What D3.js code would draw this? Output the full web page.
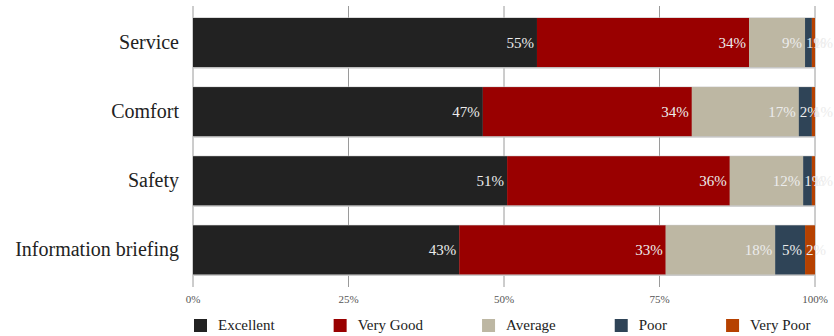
<!DOCTYPE html>
<html>
<head>
<meta charset="utf-8">
<script src="https://cdn.jsdelivr.net/npm/d3@7"></script>
<style>
  body { margin: 0; background: #fff; }
  text { font-family: "Liberation Serif", "DejaVu Serif", serif; }
</style>
</head>
<body>
<svg id="chart"></svg>
<script>
// Ratings per category (percent)
const categories = ["Service", "Comfort", "Safety", "Information briefing"];
const seriesNames = ["Excellent", "Very Good", "Average", "Poor", "Very Poor"];
const excellent = [55.3, 46.6, 50.5, 42.8];
const veryGood = [34.1, 33.6, 35.8, 33.2];
const average = [9.0, 17.2, 11.8, 17.6];
const poor = [1.1, 2.1, 1.4, 4.8];
const veryPoor = [0.5, 0.5, 0.5, 1.6];
const tickValues = [0, 25, 50, 75, 100];
const colors = ["#222222", "#990000", "#bdb7a3", "#2f4457", "#b64100"];

const width = 834;
const height = 336;
const margin = { top: 6, right: 19, bottom: 51, left: 193 };

const svg = d3.select("#chart")
  .attr("width", width)
  .attr("height", height);

// Build rows for the stack
const rows = categories.map((c, i) => ({
  category: c,
  "Excellent": excellent[i],
  "Very Good": veryGood[i],
  "Average": average[i],
  "Poor": poor[i],
  "Very Poor": veryPoor[i]
}));

const stacked = d3.stack().keys(seriesNames)(rows);

const xScale = d3.scaleLinear()
  .domain([0, 100])
  .range([margin.left, width - margin.right]);

const yScale = d3.scaleBand()
  .domain(categories)
  .range([7.6, 284.8])
  .paddingInner(0.29)
  .paddingOuter(0.15);

const color = d3.scaleOrdinal().domain(seriesNames).range(colors);

// Gridlines
svg.append("g")
  .selectAll("line")
  .data(tickValues)
  .enter()
  .append("line")
  .attr("x1", d => xScale(d))
  .attr("x2", d => xScale(d))
  .attr("y1", margin.top)
  .attr("y2", height - margin.bottom + 2)
  .attr("stroke", "#9a9a9a")
  .attr("stroke-width", 1);

// Tick labels
svg.append("g")
  .selectAll("text")
  .data(tickValues)
  .enter()
  .append("text")
  .attr("x", d => xScale(d))
  .attr("y", 303)
  .attr("text-anchor", "middle")
  .style("font-size", "11px")
  .attr("fill", "#555")
  .text(d => d + "%");

// Bar shadow / border
svg.append("g")
  .selectAll("rect")
  .data(categories)
  .enter()
  .append("rect")
  .attr("x", xScale(0))
  .attr("y", d => yScale(d) - 0.5)
  .attr("width", xScale(100) - xScale(0))
  .attr("height", yScale.bandwidth() + 2)
  .attr("fill", "#c8c8c8");

// Bars
const layers = svg.append("g")
  .selectAll("g")
  .data(stacked)
  .enter()
  .append("g")
  .attr("fill", d => color(d.key));

layers.selectAll("rect")
  .data(d => d)
  .enter()
  .append("rect")
  .attr("x", d => xScale(d[0]))
  .attr("y", d => yScale(d.data.category))
  .attr("width", d => xScale(d[1]) - xScale(d[0]))
  .attr("height", yScale.bandwidth());

// Value labels: right-aligned at the segment end, or from the segment start if too narrow
const labels = svg.append("g")
  .selectAll("g")
  .data(stacked)
  .enter()
  .append("g");

labels.selectAll("text")
  .data(d => d)
  .enter()
  .append("text")
  .attr("y", d => yScale(d.data.category) + yScale.bandwidth() / 2 + 5)
  .style("font-size", "15px")
  .attr("fill", "#ececec")
  .text(d => Math.round(d[1] - d[0]) + "%")
  .each(function(d) {
    const w = this.getComputedTextLength();
    const segW = xScale(d[1]) - xScale(d[0]);
    if (w + 4 > segW) {
      d3.select(this).attr("x", xScale(d[0]) + 1).attr("text-anchor", "start");
    } else {
      d3.select(this).attr("x", xScale(d[1]) - 3).attr("text-anchor", "end");
    }
  });

// Category labels
svg.append("g")
  .selectAll("text")
  .data(categories)
  .enter()
  .append("text")
  .attr("x", 179)
  .attr("y", d => yScale(d) + yScale.bandwidth() / 2 + 6)
  .attr("text-anchor", "end")
  .style("font-size", "20px")
  .attr("fill", "#222")
  .text(d => d);

// Legend
const legend = svg.append("g")
  .attr("class", "legend");

let lx = 194;
seriesNames.forEach((name, i) => {
  legend.append("rect")
    .attr("x", lx)
    .attr("y", 319)
    .attr("width", 13)
    .attr("height", 13)
    .attr("fill", colors[i]);
  const t = legend.append("text")
    .attr("x", lx + 24)
    .attr("y", 330)
    .style("font-size", "15px")
    .attr("fill", "#222")
    .text(name);
  lx += 24 + t.node().getComputedTextLength() + 59;
});
</script>
</body>
</html>
